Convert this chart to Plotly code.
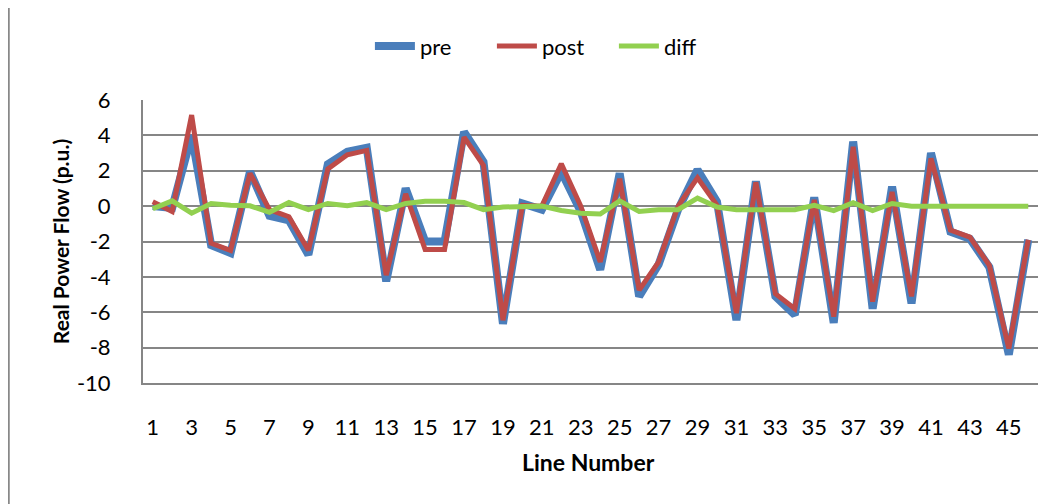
import plotly.graph_objects as go

line_numbers = list(range(1, 47))
pre = [0.0, -0.1, 4.0, -2.2, -2.65, 1.95, -0.55, -0.8, -2.75, 2.37,
       3.07, 3.3, -4.25, 1.0, -2.0, -2.0, 4.2, 2.5, -6.65, 0.15,
       -0.2, 1.95, -0.3, -3.6, 1.85, -5.1, -3.3, -0.2, 2.05, 0.25,
       -6.45, 1.4, -5.1, -6.15, 0.5, -6.6, 3.65, -5.8, 1.1, -5.5,
       3.0, -1.45, -1.85, -3.45, -8.4, -1.9]
post = [0.25, -0.3, 5.15, -2.1, -2.5, 1.85, -0.2, -0.6, -2.5, 2.1,
        2.9, 3.15, -3.9, 0.7, -2.45, -2.45, 3.9, 2.3, -6.45, 0.05,
        0.0, 2.4, 0.0, -3.15, 1.55, -4.75, -3.15, 0.0, 1.6, 0.05,
        -6.05, 1.35, -4.95, -5.8, 0.35, -6.25, 3.35, -5.4, 0.8, -5.1,
        2.7, -1.35, -1.75, -3.35, -8.05, -1.9]
diff = [-0.15, 0.3, -0.4, 0.15, 0.05, 0.02, -0.35, 0.2, -0.2, 0.15,
        0.02, 0.2, -0.2, 0.15, 0.28, 0.28, 0.2, -0.2, -0.05, 0.0,
        0.0, -0.25, -0.4, -0.45, 0.3, -0.3, -0.2, -0.2, 0.45, -0.05,
        -0.2, -0.2, -0.2, -0.2, 0.05, -0.25, 0.2, -0.25, 0.15, 0.0,
        0.0, 0.0, 0.0, 0.0, 0.0, 0.0]
x_tick_labels = [str(i) for i in range(1, 46, 2)]
y_ticks = list(range(-10, 7, 2))

fig = go.Figure()
fig.add_trace(go.Scatter(x=line_numbers, y=pre, mode="lines", name="pre",
                         line=dict(color="#4A7EBB", width=8)))
fig.add_trace(go.Scatter(x=line_numbers, y=post, mode="lines", name="post",
                         line=dict(color="#BE4B48", width=5)))
fig.add_trace(go.Scatter(x=line_numbers, y=diff, mode="lines", name="diff",
                         line=dict(color="#92D050", width=5)))

font_family = "Lato, 'Open Sans', sans-serif"

fig.update_layout(
    width=1053, height=496,
    margin=dict(l=135, r=23, t=92, b=121),
    plot_bgcolor="white", paper_bgcolor="white",
    font=dict(family=font_family, size=22, color="black"),
    showlegend=True,
    legend=dict(orientation="h", x=0.458, xanchor="center", y=1.19, yanchor="middle",
                font=dict(size=22), itemwidth=40, entrywidth=67,
                entrywidthmode="pixels", traceorder="normal",
                bgcolor="rgba(0,0,0,0)"),
    xaxis=dict(range=[0.5, 46.5], tickmode="array",
               tickvals=[int(t) for t in x_tick_labels], ticktext=x_tick_labels,
               showgrid=False, showline=True, linecolor="#868686", linewidth=2,
               ticks="", ticklabelstandoff=24, zeroline=False,
               tickfont=dict(size=22)),
    yaxis=dict(range=[-10, 6], tickmode="array", tickvals=y_ticks,
               ticktext=[str(v) for v in y_ticks],
               showgrid=True, gridcolor="#868686", gridwidth=2,
               zeroline=True, zerolinecolor="#868686", zerolinewidth=2,
               showline=True, linecolor="#868686", linewidth=2,
               ticks="", ticklabelstandoff=26, tickfont=dict(size=22)),
    annotations=[
        dict(text="<b>Real Power Flow (p.u.)</b>", xref="paper", yref="paper",
             x=-0.092, y=0.5, textangle=-90, showarrow=False,
             xanchor="center", yanchor="middle", font=dict(size=21)),
        dict(text="<b>Line Number</b>", xref="paper", yref="paper",
             x=0.498, y=-0.279, showarrow=False,
             xanchor="center", yanchor="middle", font=dict(size=23)),
    ],
    shapes=[
        dict(type="line", xref="paper", yref="paper", x0=-0.15, x1=-0.15,
             y0=-0.43, y1=1.33, line=dict(color="#888888", width=2)),
    ],
)

fig.write_html("out.html")
